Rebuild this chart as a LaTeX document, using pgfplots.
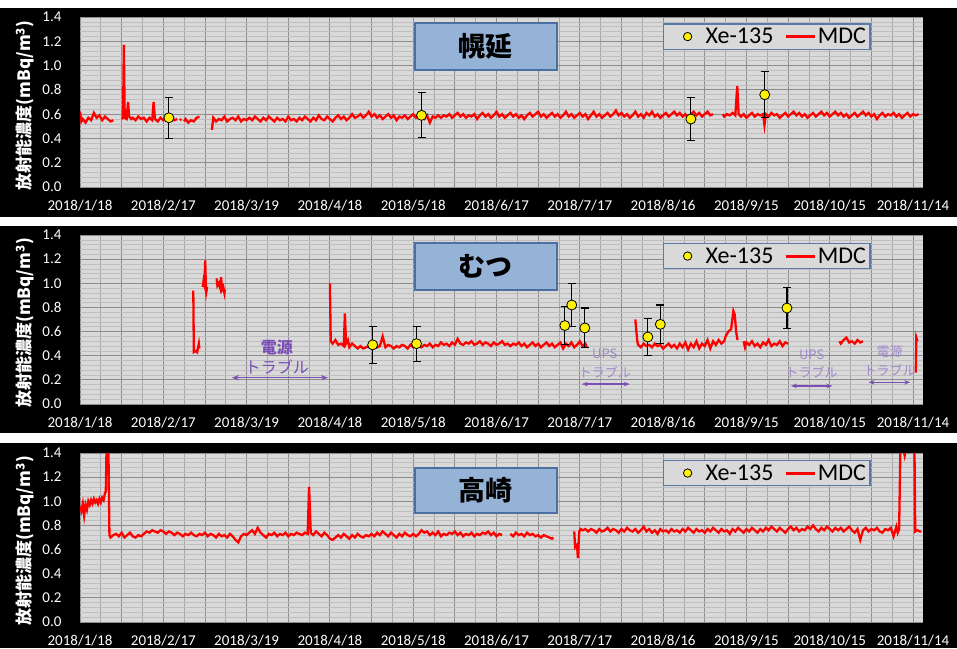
\documentclass[border=0pt]{standalone}
\usepackage{pgfplots}
\pgfplotsset{compat=1.18}
\usepackage{fontspec}
\setmainfont{Carlito}
\newfontfamily\cjk{Noto Sans CJK JP}
\usetikzlibrary{arrows.meta}
\definecolor{bggray}{HTML}{D9D9D9}
\definecolor{majgrid}{HTML}{8C8C8C}
\definecolor{minxgrid}{HTML}{A8A8A8}
\definecolor{minygrid}{HTML}{BEBEBE}
\definecolor{boxfill}{HTML}{95B3D7}
\definecolor{boxdraw}{HTML}{4A6FA0}
\definecolor{legdraw}{HTML}{5B7AA8}
\definecolor{annot}{HTML}{7B4FB5}
\definecolor{annotlight}{HTML}{A08ACB}
\tikzset{stbox/.style={fill=boxfill, draw=boxdraw, line width=1.2pt, minimum width=142pt, minimum height=47pt, font=\cjk\bfseries\fontsize{27}{27}\selectfont}}
\pgfplotsset{
 xeleg/.style={only marks, mark=*, mark size=4.2pt, mark options={fill=yellow, draw=black, line width=0.8pt},
  legend image code/.code={\path[draw=none, fill=none] (0pt,-1pt) rectangle (38pt,1pt); \draw[##1] plot coordinates {(21pt,0pt)};}},
 mdcleg/.style={red, line width=3pt,
  legend image code/.code={\path[draw=none, fill=none] (0pt,0pt) -- (41pt,0pt); \draw[##1] (12pt,0pt) -- (41pt,0pt);}},
 panel/.style={
  scale only axis, width=843pt,
  xmin=0, xmax=303.6, ymin=0, ymax=1.4,
  xtick={0,15,...,300},
  xticklabels={2018/1/18,,2018/2/17,,2018/3/19,,2018/4/18,,2018/5/18,,2018/6/17,,2018/7/17,,2018/8/16,,2018/9/15,,2018/10/15,,2018/11/14},
  ytick={0,0.2,0.4,0.6,0.8,1.0,1.2,1.4},
  minor x tick num=1, minor y tick num=4,
  grid=both,
  major grid style={majgrid, line width=0.9pt},
  minor x grid style={minxgrid, line width=0.7pt},
  minor y grid style={minygrid, line width=0.5pt},
  major tick length=0pt, minor tick length=0pt,
  axis line style={draw=none},
  axis background/.style={fill=bggray},
  tick label style={font=\fontsize{15}{15}\selectfont, text=white},
  /pgf/number format/assume math mode=true,
  yticklabel style={/pgf/number format/.cd, fixed, fixed zerofill, precision=1, /tikz/.cd, xshift=-15pt},
  xticklabel style={yshift=-10pt},
  unbounded coords=jump,
  ylabel={\cjk\bfseries 放射能濃度(mBq/m\textsuperscript{3})},
  ylabel style={text=white, font=\fontsize{17}{17}\selectfont, at={(axis description cs:-0.0652,0.48)}, anchor=center},
  legend columns=2,
  legend style={at={(0.6916,0.962)}, anchor=north west, fill=bggray, draw=legdraw, line width=1.2pt,
    inner xsep=3pt, inner ysep=3pt, font=\fontsize{24}{24}\selectfont, nodes={inner sep=1pt}, /tikz/column sep=0pt},
 },
 mdc/.style={red, line width=2.3pt, forget plot},
 xe/.style={only marks, mark=*, mark size=5pt, mark options={fill=yellow, draw=black, line width=0.8pt}, forget plot,
   error bars/.cd, y dir=both, y explicit, error bar style={black, line width=1.2pt},
   error mark options={black, rotate=90, mark size=4pt, line width=1.2pt}},
}
\begin{document}
\begin{tikzpicture}
\fill[white] (0pt,0pt) rectangle (957pt,648pt);
\path[use as bounding box] (0pt,0pt) rectangle (957pt,648pt);
\fill[black] (0pt,431pt) rectangle (957pt,640pt);
\fill[black] (0pt,215pt) rectangle (957pt,422pt);
\fill[black] (0pt,0pt) rectangle (957pt,205pt);

% ---------------- Panel 1 ----------------
\begin{axis}[panel, height=170pt, at={(80pt,461pt)}, anchor=south west]
\addlegendimage{xeleg}
\addlegendentry{Xe-135}
\addlegendimage{mdcleg}
\addlegendentry{MDC}
\addplot[mdc] coordinates {
(0,0.62)(0.5,0.54)(1,0.56)(2,0.53)(3,0.57)(4,0.55)(5,0.61)(6,0.57)(7,0.59)(8,0.55)(9,0.58)(10,0.56)(11,0.54)(12,0.55)(12.5,nan)
(15,0.56)(15.5,0.57)(15.8,1.17)(16.1,0.57)(16.8,0.56)(17.3,0.70)(17.7,0.58)(18.5,0.56)(19,0.57)(20,0.55)(21,0.58)(22,0.56)(23,0.57)(24,0.54)(25,0.57)(26,0.55)(26.5,0.70)(27,0.56)(28,0.54)(29,0.57)(30,0.55)(31,0.58)(32,0.56)(33,0.57)(34,0.55)(35,0.56)(35.5,nan)
(36,0.55)(36.5,0.56)(37,nan)
(37.5,0.54)(38,0.56)(39,0.53)(40,0.55)(41,0.54)(42,0.57)(43,0.58)(44,nan)
(47.5,0.47)(48,0.57)(49,0.54)(50,0.56)(51,0.55)(52,0.58)(53,0.54)(54,0.56)(55,0.57)(56,0.55)(57,0.58)(58,0.54)(59,0.56)(60,0.55)(61,0.57)(62,0.55)(63,0.58)(64,0.56)(65,0.54)(66,0.57)(67,0.55)(68,0.58)(69,0.56)(70,0.54)(71,0.57)(72,0.55)(73,0.56)(74,0.54)(75,0.58)(76,0.55)(77,0.56)(78,0.54)(79,0.57)(80,0.55)(81,0.58)(82,0.56)(83,0.54)(84,0.57)(85,0.55)(86,0.59)(87,0.56)(88,0.55)(89,0.58)(90,0.56)(91,0.54)(92,0.57)(93,0.59)(94,0.56)(95,0.58)(96,0.55)(97,0.57)(98,0.60)(99,0.57)(100,0.58)
(101,0.60)(102,0.57)(103,0.59)(104,0.62)(105,0.58)(106,0.60)(107,0.57)(108,0.59)(109,0.56)(110,0.58)(111,0.60)(112,0.57)(113,0.59)(114,0.55)(115,0.58)(116,0.57)(117,0.59)(118,0.56)(119,0.58)(120,0.60)(121,0.57)(122,0.59)
(123,0.58)(124,0.56)(125,0.59)(126,0.53)(127,0.58)(128,0.57)(129,0.59)(130,0.57)(131,0.59)(132,0.58)(133,0.60)(134,0.57)(135,0.59)(136,0.61)(137,0.58)(138,0.60)(139,0.57)(140,0.59)(141,0.58)(142,0.60)(143,0.56)(144,0.59)(145,0.61)(146,0.58)(147,0.60)(148,0.57)(149,0.59)(150,0.62)
(151,0.58)(152,0.60)(153,0.57)(154,0.59)(155,0.61)(156,0.58)(157,0.60)(158,0.57)(159,0.59)(160,0.56)(161,0.59)(162,0.61)(163,0.58)(164,0.60)(165,0.62)(166,0.58)(167,0.60)(168,0.57)(169,0.59)(170,0.61)(171,0.58)(172,0.60)(173,0.57)(174,0.59)(175,0.62)(176,0.58)(177,0.60)(178,0.57)(179,0.59)(180,0.61)
(181,0.58)(182,0.60)(183,0.56)(184,0.59)(185,0.62)(186,0.58)(187,0.60)(188,0.57)(189,0.59)(190,0.61)(191,0.58)(192,0.60)(193,0.63)(194,0.59)(195,0.61)(196,0.58)(197,0.60)(198,0.57)(199,0.59)(200,0.62)(201,0.58)(202,0.60)(203,0.57)(204,0.61)(205,0.59)(206,0.62)(207,0.58)(208,0.60)(209,0.57)(210,0.59)
(211,0.61)(212,0.58)(213,0.60)(214,0.62)(215,0.59)(216,0.61)(217,0.58)(218,0.60)(219,0.57)(220,0.60)(221,0.62)(222,0.59)(223,0.61)(224,0.58)(225,0.60)(226,0.62)(227,0.59)(228,0.60)(229,nan)
(231.5,0.60)(232,0.58)(233,0.60)(234,0.59)(235,0.61)(236,0.59)(236.7,0.83)(237.2,0.60)(238,0.58)(239,0.60)(240,0.57)(241,0.59)(242,0.61)(243,0.58)(244,0.60)(245,0.59)(246,0.60)(246.5,0.51)(247,0.60)(248,0.58)(249,0.61)(250,0.59)
(251,0.60)(252,0.57)(253,0.59)(254,0.61)(255,0.58)(256,0.60)(257,0.62)(258,0.59)(259,0.61)(260,0.58)(261,0.60)(262,0.57)(263,0.59)(264,0.61)(265,0.58)(266,0.60)(267,0.62)(268,0.59)(269,0.61)(270,0.58)(271,0.60)(272,0.62)(273,0.59)(274,0.61)(275,0.58)
(276,0.60)(277,0.57)(278,0.59)(279,0.61)(280,0.58)(281,0.60)(282,0.62)(283,0.59)(284,0.61)(285,0.58)(286,0.60)(287,0.56)(288,0.59)(289,0.61)(290,0.58)(291,0.60)(292,0.59)(293,0.61)(294,0.58)(295,0.60)(296,0.57)(297,0.59)(298,0.61)(299,0.58)(300,0.60)(301,0.59)(302,0.60)
};
\addplot[xe] coordinates {(32,0.57) +- (0,0.17) (123,0.59) +- (0,0.185) (220,0.56) +- (0,0.18) (246.6,0.76) +- (0,0.19)};
\node[stbox] at (axis description cs:0.4816,0.826) {幌延};
\end{axis}

% ---------------- Panel 2 ----------------
\begin{axis}[panel, height=169pt, at={(80pt,244pt)}, anchor=south west, legend style={at={(0.6916,0.953)}}]
\addlegendimage{xeleg}
\addlegendentry{Xe-135}
\addlegendimage{mdcleg}
\addlegendentry{MDC}
\addplot[mdc] coordinates {
(40.8,0.94)(41.0,0.43)(41.8,0.44)(42.2,0.43)(42.8,0.50)(43.0,0.46)(43.5,nan)
(44.2,0.97)(44.5,1.02)(44.8,0.99)(45.1,1.19)(45.3,1.00)(45.5,0.93)(45.8,0.97)(46.5,nan)
(49.2,1.04)(49.5,0.98)(50.0,1.00)(50.5,0.96)(50.8,1.05)(51.2,0.95)(51.6,0.97)(52.0,0.92)(52.2,0.95)(53,nan)
(90,1.00)(90.3,0.52)(91,0.50)(92,0.53)(93,0.49)(94,0.50)(95,0.48)(95.4,0.75)(95.8,0.50)(96.5,0.53)(97,0.47)(98,0.50)(99,0.48)(100,0.46)
(101,0.48)(102,0.46)(103,0.47)(104,0.48)(105,0.46)(106,0.49)(107,0.47)(108,0.48)(109,0.56)(110,0.47)(111,0.49)(112,0.48)(113,0.46)(114,0.48)(115,0.47)(116,0.49)(117,0.48)(118,0.46)(119,0.49)(120,0.47)
(121,0.50)(122,0.48)(123,0.47)(124,0.49)(125,0.48)(126,0.50)(127,0.47)(128,0.49)(129,0.48)(130,0.51)(131,0.49)(132,0.50)(133,0.48)(134,0.51)(135,0.49)(136,0.54)(137,0.50)(138,0.49)(139,0.51)(140,0.50)
(141,0.52)(142,0.49)(143,0.50)(144,0.52)(145,0.49)(146,0.51)(147,0.50)(148,0.48)(149,0.51)(150,0.49)(151,0.50)(152,0.52)(153,0.49)(154,0.50)(155,0.48)(156,0.50)(157,0.49)(158,0.51)(159,0.48)(160,0.50)
(161,0.47)(162,0.49)(163,0.51)(164,0.48)(165,0.50)(166,0.47)(167,0.49)(168,0.51)(169,0.48)(170,0.50)(171,0.47)(172,0.49)(173,0.51)(174,0.46)(175,0.50)(176,0.48)(177,0.51)(178,0.47)(179,0.49)(180,0.52)(181,0.48)(182,0.50)(182.5,0.47)(183,nan)
(200,0.70)(200.3,0.62)(200.7,0.52)(201,0.49)(202,0.47)(203,0.50)(204,0.48)(205,0.49)(206,0.47)(207,0.50)(208,0.48)(209,0.49)(210,0.46)(211,0.48)(212,0.50)(213,0.47)(214,0.49)(215,0.46)(216,0.50)(217,0.47)(218,0.51)(219,0.45)(220,0.50)
(221,0.47)(222,0.52)(223,0.46)(224,0.50)(225,0.48)(226,0.53)(227,0.46)(228,0.52)(229,0.49)(230,0.53)(231,0.50)(232,0.52)(232.5,0.56)(233.5,0.60)(234.5,0.62)(235.3,0.77)(235.8,0.74)(236.3,0.60)(236.8,0.53)(237.5,nan)
(239,0.52)(239.5,0.47)(240,0.51)(241,0.49)(242,0.52)(243,0.48)(244,0.50)(245,0.47)(246,0.51)(247,0.49)(248,0.53)(249,0.48)(250,0.50)(251,0.49)(252,0.52)(253,0.48)(254,0.51)(255,0.50)(256,nan)
(273.5,0.52)(274,0.50)(275,0.53)(276,0.55)(277,0.51)(278,0.52)(279,0.50)(280,0.53)(281,0.51)(282,0.52)(283,nan)
(301,0.26)(301.2,0.55)(301.6,0.52)
};
\addplot[xe] coordinates {(105.4,0.49) +- (0,0.155) (121.2,0.50) +- (0,0.145) (174.6,0.65) +- (0,0.16) (177.1,0.82) +- (0,0.18) (181.8,0.63) +- (0,0.165) (204.5,0.555) +- (0,0.15) (209,0.66) +- (0,0.16) (254.6,0.795) +- (0,0.17)};
\node[stbox] at (axis description cs:0.4816,0.814) {むつ};
\node[text=annot, font=\cjk\bfseries\fontsize{16}{16}\selectfont] at (axis cs:70.9,0.472) {電源};
\node[text=annot, font=\cjk\fontsize{16}{16}\selectfont] at (axis cs:70.9,0.306) {トラブル};
\draw[annot, line width=1.5pt, {Stealth[length=7pt]}-{Stealth[length=7pt]}] (axis cs:54.7,0.218) -- (axis cs:89.3,0.218);
\node[text=annotlight, font=\cjk\fontsize{13}{13}\selectfont] at (axis cs:189,0.42) {UPS};
\node[text=annotlight, font=\cjk\fontsize{13}{13}\selectfont] at (axis cs:189,0.265) {トラブル};
\draw[annot, line width=1.5pt, {Stealth[length=6pt]}-{Stealth[length=6pt]}] (axis cs:180.7,0.165) -- (axis cs:198,0.165);
\node[text=annotlight, font=\cjk\fontsize{13}{13}\selectfont] at (axis cs:263.5,0.406) {UPS};
\node[text=annotlight, font=\cjk\fontsize{13}{13}\selectfont] at (axis cs:263.5,0.265) {トラブル};
\draw[annot, line width=1.5pt, {Stealth[length=6pt]}-{Stealth[length=6pt]}] (axis cs:256,0.15) -- (axis cs:271,0.15);
\node[text=annotlight, font=\cjk\fontsize{13}{13}\selectfont] at (axis cs:291.6,0.43) {電源};
\node[text=annotlight, font=\cjk\fontsize{13}{13}\selectfont] at (axis cs:291.6,0.28) {トラブル};
\draw[annot, line width=1.5pt, {Stealth[length=6pt]}-{Stealth[length=6pt]}] (axis cs:284,0.18) -- (axis cs:299,0.18);
\end{axis}

% ---------------- Panel 3 ----------------
\begin{axis}[panel, height=169pt, at={(80pt,26pt)}, anchor=south west, legend style={at={(0.6916,0.959)}}]
\addlegendimage{xeleg}
\addlegendentry{Xe-135}
\addlegendimage{mdcleg}
\addlegendentry{MDC}
\addplot[mdc] coordinates {
(0,0.96)(0.5,0.92)(1,0.98)(1.5,0.88)(2,0.97)(2.5,0.93)(3,1.00)(3.5,0.97)(4,1.01)(4.5,0.98)(5,1.02)(5.5,0.99)(6,1.01)(6.5,0.98)(7,1.02)(7.5,0.99)(8,1.03)(8.5,1.01)(9,1.07)(9.3,1.08)(9.6,1.50)(10.2,1.50)(10.6,0.72)
(11,0.70)(12,0.72)(13,0.73)(14,0.71)(15,0.74)(16,0.70)(17,0.72)(18,0.74)(19,0.71)(20,0.70)(21,0.72)(22,0.71)(23,0.73)(24,0.75)(25,0.74)(26,0.76)(27,0.75)(28,0.74)(29,0.76)(30,0.75)
(31,0.73)(32,0.75)(33,0.74)(34,0.72)(35,0.74)(36,0.73)(37,0.71)(38,0.73)(39,0.72)(40,0.74)(41,0.72)(42,0.71)(43,0.73)(44,0.72)(45,0.74)(46,0.71)(47,0.73)(48,0.72)(49,0.70)(50,0.73)
(51,0.71)(52,0.72)(53,0.70)(54,0.73)(55,0.71)(56,0.68)(57,0.66)(58,0.71)(59,0.73)(60,0.72)(61,0.74)(62,0.76)(63,0.73)(64,0.78)(65,0.74)(66,0.72)(67,0.70)(68,0.73)(69,0.72)(70,0.74)
(71,0.71)(72,0.73)(73,0.72)(74,0.74)(75,0.71)(76,0.73)(77,0.72)(78,0.74)(79,0.73)(80,0.72)(81,0.74)(82,0.73)(82.5,1.12)(83.1,0.74)(84,0.72)(85,0.75)(86,0.73)(87,0.71)(88,0.74)(89,0.72)(90,0.69)
(91,0.68)(92,0.70)(93,0.72)(94,0.70)(95,0.73)(96,0.71)(97,0.69)(98,0.72)(99,0.70)(100,0.73)(101,0.71)(102,0.70)(103,0.72)(104,0.71)(105,0.73)(106,0.71)(107,0.74)(108,0.72)(109,0.75)(110,0.73)
(111,0.71)(112,0.74)(113,0.72)(114,0.70)(115,0.73)(116,0.71)(117,0.74)(118,0.72)(119,0.71)(120,0.73)(121,0.71)(122,0.73)(123,0.76)(124,0.74)(125,0.75)(126,0.72)(127,0.74)(128,0.72)(129,0.75)(130,0.71)
(131,0.73)(132,0.72)(133,0.74)(134,0.73)(135,0.75)(136,0.72)(137,0.74)(138,0.71)(139,0.73)(140,0.72)(141,0.74)(142,0.71)(143,0.73)(144,0.72)(145,0.74)(146,0.73)(147,0.75)(148,0.72)(149,0.74)(150,0.71)(151,0.73)(152,0.72)(153,nan)
(155,0.73)(156,0.71)(157,0.74)(158,0.72)(159,0.73)(160,0.71)(161,0.74)(162,0.72)(163,0.73)(164,0.71)(165,0.72)(166,0.70)(167,0.72)(168,0.71)(169,0.70)(170,0.69)(170.5,0.70)(171,nan)
(178,0.75)(178.3,0.62)(179,0.64)(179.3,0.53)(179.8,0.75)(180.3,0.77)
(181,0.76)(182,0.77)(183,0.75)(184,0.77)(185,0.76)(186,0.74)(187,0.77)(188,0.75)(189,0.76)(190,0.78)(191,0.75)(192,0.77)(193,0.76)(194,0.74)(195,0.77)(196,0.75)(197,0.78)(198,0.76)(199,0.75)(200,0.77)
(201,0.74)(202,0.76)(203,0.79)(204,0.75)(205,0.77)(206,0.74)(207,0.76)(208,0.73)(209,0.77)(210,0.75)(211,0.76)(212,0.74)(213,0.77)(214,0.75)(215,0.76)(216,0.74)(217,0.77)(218,0.75)(219,0.78)(220,0.76)
(221,0.74)(222,0.77)(223,0.75)(224,0.76)(225,0.74)(226,0.77)(227,0.75)(228,0.78)(229,0.76)(230,0.74)(231,0.77)(232,0.75)(233,0.76)(234,0.73)(235,0.77)(236,0.75)(237,0.78)(238,0.76)(239,0.74)(240,0.77)
(241,0.75)(242,0.78)(243,0.76)(244,0.74)(245,0.77)(246,0.75)(247,0.78)(248,0.76)(249,0.79)(250,0.77)(251,0.75)(252,0.78)(253,0.76)(254,0.74)(255,0.77)(256,0.79)(257,0.76)(258,0.78)(259,0.75)(260,0.77)
(261,0.76)(262,0.79)(263,0.77)(264,0.80)(265,0.77)(266,0.75)(267,0.78)(268,0.76)(269,0.79)(270,0.77)(271,0.75)(272,0.78)(273,0.76)(274,0.78)(275,0.75)(276,0.77)(277,0.79)(278,0.76)(279,0.74)(280,0.77)
(281,0.68)(282,0.76)(283,0.78)(284,0.75)(285,0.77)(286,0.76)(287,0.78)(288,0.75)(289,0.74)(290,0.77)(291,0.76)(292,0.78)(293,0.71)(294,0.79)(294.5,0.74)(295,0.77)(295.5,1.50)(296,1.50)(297,1.38)(298,1.50)(299,1.50)(300,1.50)(300.5,1.50)(300.8,0.75)(301.5,0.76)(302.5,0.75)(303,0.75)
};
\node[stbox, minimum height=45pt] at (axis description cs:0.4816,0.778) {高崎};
\end{axis}
\end{tikzpicture}
\end{document}
